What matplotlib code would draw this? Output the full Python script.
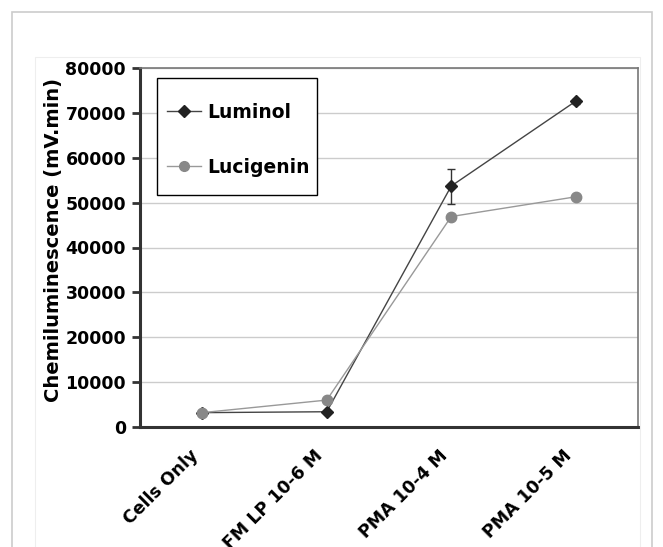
import matplotlib
matplotlib.use("Agg")
import matplotlib.pyplot as plt
from matplotlib.patches import Rectangle
from matplotlib.lines import Line2D

plt.rcParams['font.family'] = ['DejaVu Sans']

categories = ["Cells Only", "FM LP 10-6 M", "PMA 10-4 M", "PMA 10-5 M"]
luminol = [3200, 3400, 53700, 72600]
luminol_err = [0, 0, 3900, 600]
lucigenin = [3200, 6000, 46900, 51300]

fig = plt.figure(figsize=(6.63, 5.47), dpi=100)
W, H = 663, 547
ax = fig.add_axes([140 / W, 1 - 427 / H, (638 - 140) / W, (427 - 68) / H])

# outer frames
fig.add_artist(Rectangle((12 / W, -0.05), (652 - 12) / W, 1.05 - 12 / H,
                         transform=fig.transFigure, fill=False,
                         edgecolor="#cccccc", linewidth=1.2))
fig.add_artist(Rectangle((35 / W, -0.05), (640 - 35) / W, 1.05 - 57 / H,
                         transform=fig.transFigure, fill=False,
                         edgecolor="#eeeeee", linewidth=0.8))

x = list(range(len(categories)))
ax.errorbar(x, luminol, yerr=luminol_err, color="#444444", linewidth=1.0,
            marker="D", markersize=6.5, markerfacecolor="#222222",
            markeredgecolor="#222222", ecolor="#333333", elinewidth=1.0,
            capsize=3, zorder=3)
ax.plot(x, lucigenin, color="#999999", linewidth=1.0, marker="o",
        markersize=7.5, markerfacecolor="#888888", markeredgecolor="#888888",
        zorder=4)

ax.set_xlim(-0.5, 3.5)
ax.set_ylim(0, 80000)
ax.set_yticks(range(0, 80001, 10000))
ax.yaxis.grid(True, color="#cccccc", linewidth=1.0)
ax.set_axisbelow(True)

ax.set_xticks(x)
ax.set_xticklabels(categories, rotation=45, ha="right", va="top",
                   fontsize=12.5, fontweight="bold")
ax.tick_params(axis="x", length=0, pad=14)
ax.tick_params(axis="y", length=6, width=2, color="#333333", pad=4,
               labelsize=12.5)
for lab in ax.get_yticklabels():
    lab.set_fontweight("bold")

ax.spines["left"].set_linewidth(2.2)
ax.spines["left"].set_color("#333333")
ax.spines["bottom"].set_linewidth(2.2)
ax.spines["bottom"].set_color("#333333")
ax.spines["top"].set_color("#777777")
ax.spines["right"].set_color("#777777")
ax.spines["top"].set_linewidth(1.2)
ax.spines["right"].set_linewidth(1.2)

ax.set_ylabel("Chemiluminescence (mV.min)", fontsize=14, fontweight="bold")
ax.yaxis.set_label_coords(-0.155, 0.52)

# legend box
ax.add_patch(Rectangle((157 / W, 1 - 195 / H), (317 - 157) / W, (195 - 78) / H,
                       transform=fig.transFigure, facecolor="white",
                       edgecolor="black", linewidth=1.0, zorder=5))
handles = [
    Line2D([], [], color="#444444", linewidth=1.0, marker="D", markersize=6,
           markerfacecolor="#222222", markeredgecolor="#222222"),
    Line2D([], [], color="#999999", linewidth=1.0, marker="o", markersize=7,
           markerfacecolor="#888888", markeredgecolor="#888888"),
]
leg = ax.legend(handles, ["Luminol", "Lucigenin"], loc="upper left",
                bbox_to_anchor=(167 / W, 1 - 103 / H),
                bbox_transform=fig.transFigure, borderaxespad=0, borderpad=0,
                frameon=False, labelspacing=1.9,
                prop={"weight": "bold", "size": 13.5}, handlelength=1.8,
                handletextpad=0.35)
leg.set_zorder(6)

fig.savefig("out.png", dpi=100)
